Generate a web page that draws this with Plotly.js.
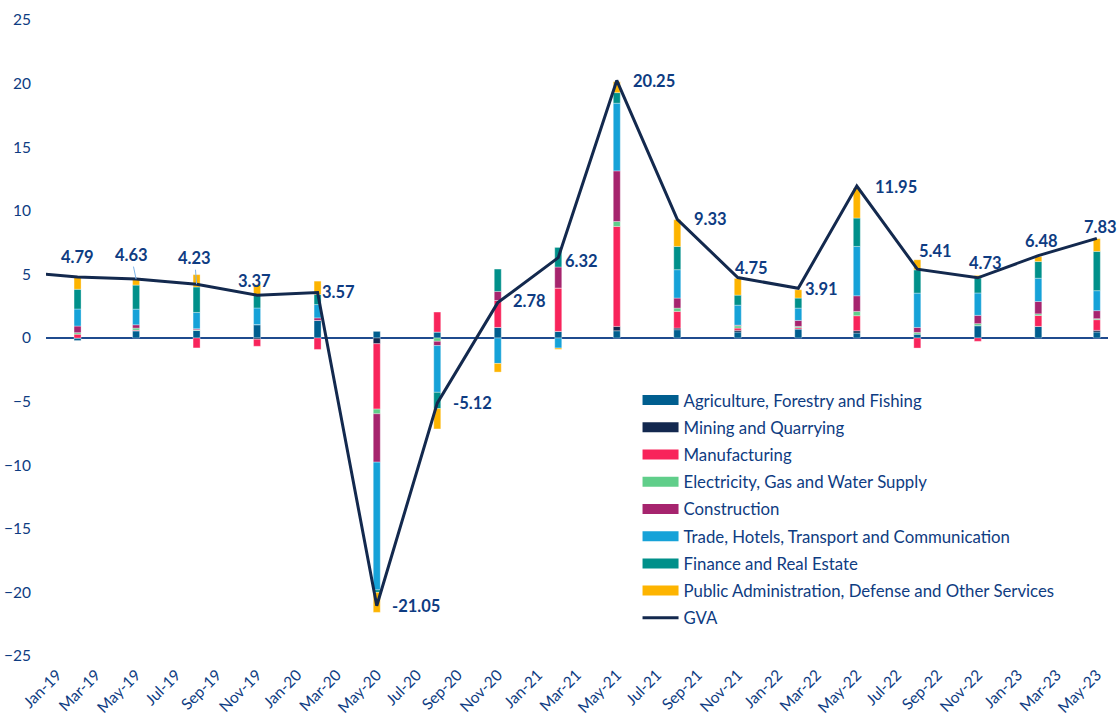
<!DOCTYPE html>
<html>
<head>
<meta charset="utf-8">
<script src="https://cdn.plot.ly/plotly-3.0.1.min.js"></script>
<style>html,body{margin:0;padding:0;background:#fff;}#chart{width:1118px;height:715px;}</style>
</head>
<body>
<div id="chart"></div>
<script>
// Quarter dates (first entry only carries the GVA line in from the left edge)
const dates = ['2018-11-01','2019-02-01','2019-05-01','2019-08-01','2019-11-01','2020-02-01','2020-05-01','2020-08-01','2020-11-01','2021-02-01','2021-05-01','2021-08-01','2021-11-01','2022-02-01','2022-05-01','2022-08-01','2022-11-01','2023-02-01','2023-05-01'];

const agriculture   = [null, -0.20, 0.57, 0.60, 1.05, 1.38, 0.52, 0.47, 0.83, 0.52, 0.57, 0.65, 0.47, 0.71, 0.39, 0.31, 0.97, 0.91, 0.47];
const mining        = [null, 0, 0, 0, -0.10, 0, -0.45, 0, 0, 0, 0.34, 0.13, 0.13, 0, 0.18, 0, 0, 0, 0.13];
const manufacturing = [null, 0.30, 0.05, -0.78, -0.55, -0.90, -5.14, 1.57, 2.12, 3.41, 7.86, 1.31, 0.18, 0.10, 1.18, -0.79, -0.26, 0.86, 0.84];
const electricity   = [null, 0.12, 0.16, 0.05, 0, 0, -0.37, -0.26, 0, 0, 0.39, 0.26, 0.18, 0.10, 0.34, 0.13, 0.16, 0.13, 0.08];
const construction  = [null, 0.52, 0.26, 0.08, 0, 0.20, -3.80, -0.34, 0.71, 1.65, 3.98, 0.79, 0.05, 0.47, 1.23, 0.39, 0.65, 0.97, 0.63];
const trade         = [null, 1.34, 1.23, 1.28, 1.31, 1.05, -10.04, -3.67, -2.00, -0.79, 5.32, 2.23, 1.57, 0.97, 3.88, 2.70, 1.76, 1.83, 1.57];
const finance       = [null, 1.55, 1.89, 2.00, 1.05, 0.79, -0.20, -1.28, 1.76, 1.54, 0.83, 1.83, 0.79, 0.79, 2.23, 1.83, 1.18, 1.31, 3.09];
const publicAdmin   = [null, 0.99, 0.47, 0.97, 0.79, 1.05, -1.57, -1.60, -0.68, -0.10, 0.86, 2.10, 1.31, 0.65, 2.36, 0.79, 0.20, 0.39, 1.00];
const gva           = [5.20, 4.79, 4.63, 4.23, 3.37, 3.57, -21.05, -5.12, 2.78, 6.32, 20.25, 9.33, 4.75, 3.91, 11.95, 5.41, 4.73, 6.48, 7.83];

const seriesNames = ['Agriculture, Forestry and Fishing','Mining and Quarrying','Manufacturing','Electricity, Gas and Water Supply','Construction','Trade, Hotels, Transport and Communication','Finance and Real Estate','Public Administration, Defense and Other Services'];
const seriesData = [agriculture, mining, manufacturing, electricity, construction, trade, finance, publicAdmin];

const tickDates = [];
for (let y = 2019; y <= 2023; y++) {
  for (let m = 1; m <= 12; m += 2) {
    if (y === 2023 && m > 5) break;
    tickDates.push(y + '-' + String(m).padStart(2,'0') + '-01');
  }
}

// styling
const colors = ['#005E8F','#13284F','#F8245B','#60CE8A','#A6246E','#16A2D8','#00908A','#FDB400'];
const textBlue = '#0E3C82';
const labelOffsets = [null,[0,20],[-5,24,1],[-2,26,1],[-3,14],[21,1],[39,0],[35,0],[32,2],[23,-3],[37,-1],[33,0],[14,10],[23,-1],[39,-1],[18,18],[8,15],[3,15],[4,11]];

const traces = [];
seriesData.forEach((arr, i) => {
  traces.push({
    type: 'bar', x: dates, y: arr, name: seriesNames[i], showlegend: false,
    width: 9.2e8,
    marker: {color: colors[i], line: {color: 'rgba(255,255,255,0.55)', width: 0.6}},
    hoverinfo: 'x+y+name'
  });
});
traces.push({
  type: 'scatter', mode: 'lines', x: dates, y: gva, name: 'GVA', showlegend: false,
  line: {color: '#13294E', width: 3}, cliponaxis: true
});
// legend entries
seriesNames.forEach((n, i) => {
  traces.push({type: 'scatter', mode: 'lines', x: [null], y: [null], name: n,
    legendgroup: 'g' + i, line: {color: colors[i], width: 11}, hoverinfo: 'skip'});
});
traces.push({type: 'scatter', mode: 'lines', x: [null], y: [null], name: 'GVA',
  legendgroup: 'g8', line: {color: '#13294E', width: 3}, hoverinfo: 'skip'});

const annotations = [];
gva.forEach((v, i) => {
  const o = labelOffsets[i];
  if (!o) return;
  const a = {x: dates[i], y: v, xref: 'x', yref: 'y', text: v.toFixed(2),
    font: {family: 'Lato', size: 16.5, color: textBlue, weight: 'bold'}};
  if (o[2]) {
    Object.assign(a, {showarrow: true, arrowhead: 0, arrowwidth: 1, arrowcolor: '#7DB3E8',
      ax: o[0], ay: -o[1], standoff: 0, startstandoff: 0});
  } else {
    Object.assign(a, {showarrow: false, xshift: o[0], yshift: o[1]});
  }
  annotations.push(a);
});

const layout = {
  width: 1118, height: 715,
  margin: {l: 46, r: 10, t: 20, b: 59},
  paper_bgcolor: '#fff', plot_bgcolor: '#fff',
  barmode: 'relative', bargap: 0,
  font: {family: 'Lato', size: 15, color: textBlue},
  xaxis: {type: 'date', range: ['2018-12-15', '2023-05-18'], tickvals: tickDates,
    tickformat: '%b-%y', tickangle: -45, showgrid: false, zeroline: false, showline: false,
    ticks: '', ticklabelstandoff: 6, tickfont: {size: 15.5, color: textBlue}},
  yaxis: {range: [-25, 25], dtick: 5, tick0: 0, showgrid: false, zeroline: true,
    zerolinecolor: '#1F4B8E', zerolinewidth: 1.5, showline: false, ticks: '',
    ticklabelstandoff: 14, tickfont: {size: 15.5, color: textBlue}},
  legend: {x: 0.557, xanchor: 'left', y: 0.43, yanchor: 'top', bgcolor: 'rgba(0,0,0,0)',
    traceorder: 'grouped', tracegroupgap: 2.4, itemwidth: 36,
    font: {family: 'Lato', size: 16.8, color: textBlue}},
  annotations: annotations,
  showlegend: true
};

Plotly.newPlot('chart', traces, layout, {displayModeBar: false, staticPlot: true});
</script>
</body>
</html>
